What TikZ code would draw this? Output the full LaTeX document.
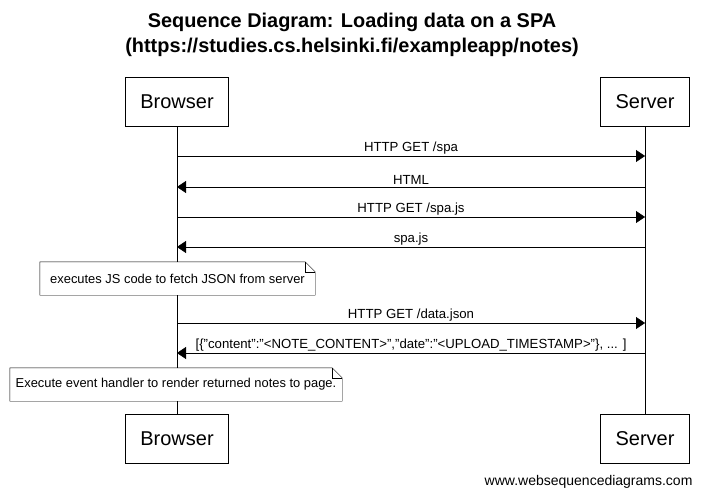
\documentclass[tikz,border=0pt]{standalone}
\usepackage{fontspec}
\setmainfont{Liberation Sans}
\usetikzlibrary{arrows.meta, positioning, calc}

\begin{document}
\begin{tikzpicture}[
    x=1pt, y=-1pt,
    % Define styles
    actor/.style={rectangle, draw=black, minimum width=103pt, minimum height=49pt, font=\fontsize{20}{24}\selectfont},
    msg/.style={-{Triangle[length=9pt, width=12pt]}, black},
    lbl/.style={font=\fontsize{13.2}{15}\selectfont, inner sep=2pt},
    note/.style={rectangle, fill=white, minimum height=33pt, inner sep=0pt, font=\fontsize{12.9}{15}\selectfont},
    ]
    \useasboundingbox (0,0) rectangle (704,498);

    % Title
    \node[align=center, font=\bfseries\fontsize{19.9}{25}\selectfont] (title) at (352,35) {Sequence Diagram: Loading data on a SPA\\(https://studies.cs.helsinki.fi/exampleapp/notes)};

    % Participants
    \node[actor] (browser) at (177,102) {Browser};
    \node[actor, minimum width=89pt] (server) at (645,102) {Server};
    \node[actor] (browserB) at (177,439) {Browser};
    \node[actor, minimum width=89pt] (serverB) at (645,439) {Server};

    % Lifelines
    \draw (browser) -- (browserB);
    \draw (server) -- (serverB);

    % Message points on lifelines
    \foreach \n/\y in {1/156, 2/187, 3/217, 4/247, 5/323, 6/353} {
        \coordinate (b\n) at (177,\y);
        \coordinate (s\n) at (645,\y);
    }

    % Messages
    \draw[msg] (b1) -- node[lbl, above] {HTTP GET /spa} (s1);
    \draw[msg] (s2) -- node[lbl, above] {HTML} (b2);
    \draw[msg] (b3) -- node[lbl, above] {HTTP GET /spa.js} (s3);
    \draw[msg] (s4) -- node[lbl, above] {spa.js} (b4);
    \draw[msg] (b5) -- node[lbl, above] {HTTP GET /data.json} (s5);
    \draw[msg] (s6) -- node[lbl, above] {[\{"content":"<NOTE\_CONTENT>","date":"<UPLOAD\_TIMESTAMP>"\}, ... ]} (b6);

    % Notes
    \node[note, minimum width=275pt] (note1) at (177.5,278.5) {executes JS code to fetch JSON from server};
    \node[note, minimum width=332pt] (note2) at (176,384.5) {Execute event handler to render returned notes to page.};
    \foreach \n in {note1, note2} {
        \draw (\n.north west) -- ($(\n.north east)+(-10,0)$) -- ($(\n.north east)+(0,10)$) -- (\n.south east) -- (\n.south west) -- cycle;
        \draw ($(\n.north east)+(-10,0)$) -- ($(\n.north east)+(-10,10)$) -- ($(\n.north east)+(0,10)$);
    }

    % Footer
    \node[anchor=east, font=\fontsize{14}{16}\selectfont] (footer) at (696,482) {www.websequencediagrams.com};

\end{tikzpicture}
\end{document}
